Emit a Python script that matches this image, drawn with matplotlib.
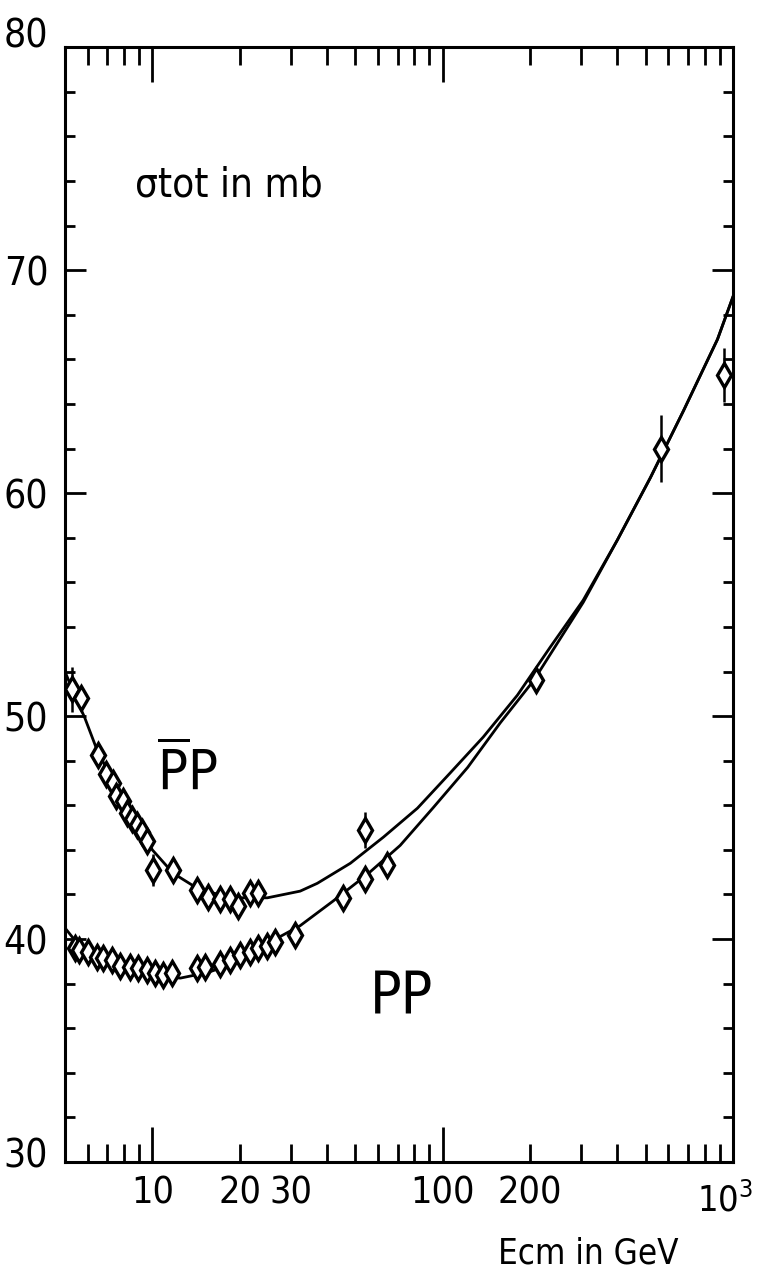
import numpy as np
import matplotlib
matplotlib.use('Agg')
import matplotlib.pyplot as plt
from matplotlib.ticker import FixedLocator, FuncFormatter
from matplotlib.transforms import ScaledTranslation

plt.rcParams['font.family'] = ['DejaVu Sans']
plt.rcParams['font.stretch'] = 'condensed'
plt.rcParams['mathtext.fontset'] = 'dejavusans'

# antiproton-proton data (Ecm in GeV, sigma_tot in mb)
pbar_E = [5.3, 5.7, 6.5, 6.9, 7.3, 7.5, 7.9, 8.2, 8.5, 8.85, 9.2, 9.6, 10.05,
          11.8, 14.3, 15.5, 17.1, 18.5, 19.8, 21.7, 23.2, 54.1, 209, 564, 935]
pbar_sig = [51.2, 50.8, 48.25, 47.4, 47.0, 46.4, 46.2, 45.65, 45.4, 45.1, 44.8,
            44.4, 43.1, 43.1, 42.2, 41.9, 41.8, 41.8, 41.5, 42.05, 42.05, 44.9,
            51.6, 62.0, 65.3]
pbar_err = [1.0, 0, 0, 0, 0, 0, 0, 0, 0, 0, 0, 0, 0.7,
            0, 0, 0, 0, 0, 0, 0, 0, 0.8, 0, 1.5, 1.2]

# proton-proton data
pp_E = [5.4, 5.6, 6.0, 6.44, 6.76, 7.27, 7.74, 8.38, 8.93, 9.6, 10.2, 10.9, 11.7,
        14.3, 15.2, 17.1, 18.5, 20.0, 21.7, 23.2, 24.9, 26.5, 31.0, 45.5, 54.1, 64.4]
pp_sig = [39.6, 39.5, 39.4, 39.2, 39.15, 39.05, 38.8, 38.75, 38.7, 38.6, 38.5, 38.4,
          38.5, 38.7, 38.75, 38.9, 39.05, 39.3, 39.4, 39.6, 39.7, 39.85, 40.2, 41.85,
          42.7, 43.3]

# fitted curves
pbar_fit_E = [5.0, 5.3, 5.86, 6.44, 7.5, 9.1, 10.0, 11.8, 14.6, 19.1, 24.9, 32.3, 37.0,
              48.1, 62.5, 81.9, 106, 138, 181, 235, 305, 400, 520, 676, 885, 1000]
pbar_fit_sig = [52.0, 51.2, 49.9, 48.5, 46.8, 45.0, 44.0, 42.95, 42.2, 41.85, 41.85, 42.15,
                42.5, 43.4, 44.57, 45.87, 47.44, 49.06, 50.94, 53.1, 55.2, 57.9, 60.7,
                63.7, 66.9, 68.8]
pp_fit_E = [5.0, 5.6, 6.6, 8.6, 10.6, 12.5, 15.5, 19.1, 24.9, 32.3, 41.9, 55.0, 71.4,
            92.9, 122, 158, 206, 305, 400, 520, 676, 885, 1000]
pp_fit_sig = [40.5, 39.7, 39.15, 38.6, 38.3, 38.25, 38.5, 38.9, 39.8, 40.6, 41.7, 42.9,
              44.2, 45.9, 47.7, 49.7, 51.6, 55.1, 57.9, 60.7, 63.7, 66.9, 68.8]

fig = plt.figure(figsize=(7.59, 12.74), dpi=100)
ax = fig.add_axes([0.0856, 0.0879, 0.880, 0.875])

ax.plot(pbar_fit_E, pbar_fit_sig, color='black', lw=2)
ax.plot(pp_fit_E, pp_fit_sig, color='black', lw=2)

ax.errorbar(pbar_E, pbar_sig, yerr=pbar_err, fmt='d', ms=12, mfc='white', mec='black',
            mew=2.4, ecolor='black', elinewidth=1.8, capsize=0)
ax.plot(pp_E, pp_sig, 'd', ms=12, mfc='white', mec='black', mew=2.4)

ax.set_xscale('log')
ax.set_xlim(5, 1000)
ax.set_ylim(30, 80)

ax.xaxis.set_major_locator(FixedLocator([10, 100, 1000]))
ax.xaxis.set_major_formatter(FuncFormatter(
    lambda v, p: {10: '10', 100: '100'}.get(int(round(v)), '')))
minors = [6, 7, 8, 9, 20, 30, 40, 50, 60, 70, 80, 90, 200, 300, 400, 500, 600, 700, 800, 900]
ax.xaxis.set_minor_locator(FixedLocator(minors))
ax.xaxis.set_minor_formatter(FuncFormatter(
    lambda v, p: {20: '20', 30: '30', 200: '200'}.get(int(round(v)), '')))

ax.set_yticks([30, 40, 50, 60, 70, 80])
ax.set_yticks(np.arange(30, 81, 2), minor=True)

ax.tick_params(axis='x', which='major', direction='in', length=25, width=2,
               top=True, labelsize=27, pad=10)
ax.tick_params(axis='x', which='minor', direction='in', length=13, width=2,
               top=True, labelsize=27, pad=10)
ax.tick_params(axis='y', which='major', direction='in', length=15, width=2,
               right=True, labelsize=28, pad=12)
ax.tick_params(axis='y', which='minor', direction='in', length=7, width=2, right=True)

for s in ax.spines.values():
    s.set_linewidth(2.2)

# raise the end labels of the y axis a little, as in the original
ylabels = ax.get_yticklabels()
ylabels[0].set_transform(ylabels[0].get_transform() + ScaledTranslation(0, 0.10, fig.dpi_scale_trans))
ylabels[-1].set_transform(ylabels[-1].get_transform() + ScaledTranslation(0, 0.15, fig.dpi_scale_trans))

fig.text(0.993, 0.0487, r'$10^3$', fontsize=26, ha='right', va='baseline')

ax.text(0.105, 0.876, 'σtot in mb', transform=ax.transAxes, fontsize=29,
        ha='left', va='center')
ax.text(0.138, 0.334, r'$\overline{\mathrm{P}}\mathrm{P}$', transform=ax.transAxes,
        fontsize=40, ha='left', va='baseline')
ax.text(0.457, 0.134, 'PP', transform=ax.transAxes, fontsize=42,
        ha='left', va='baseline')
fig.text(0.775, 0.008, 'Ecm in GeV', fontsize=25, ha='center', va='baseline')

plt.savefig('out.png', dpi=100)
